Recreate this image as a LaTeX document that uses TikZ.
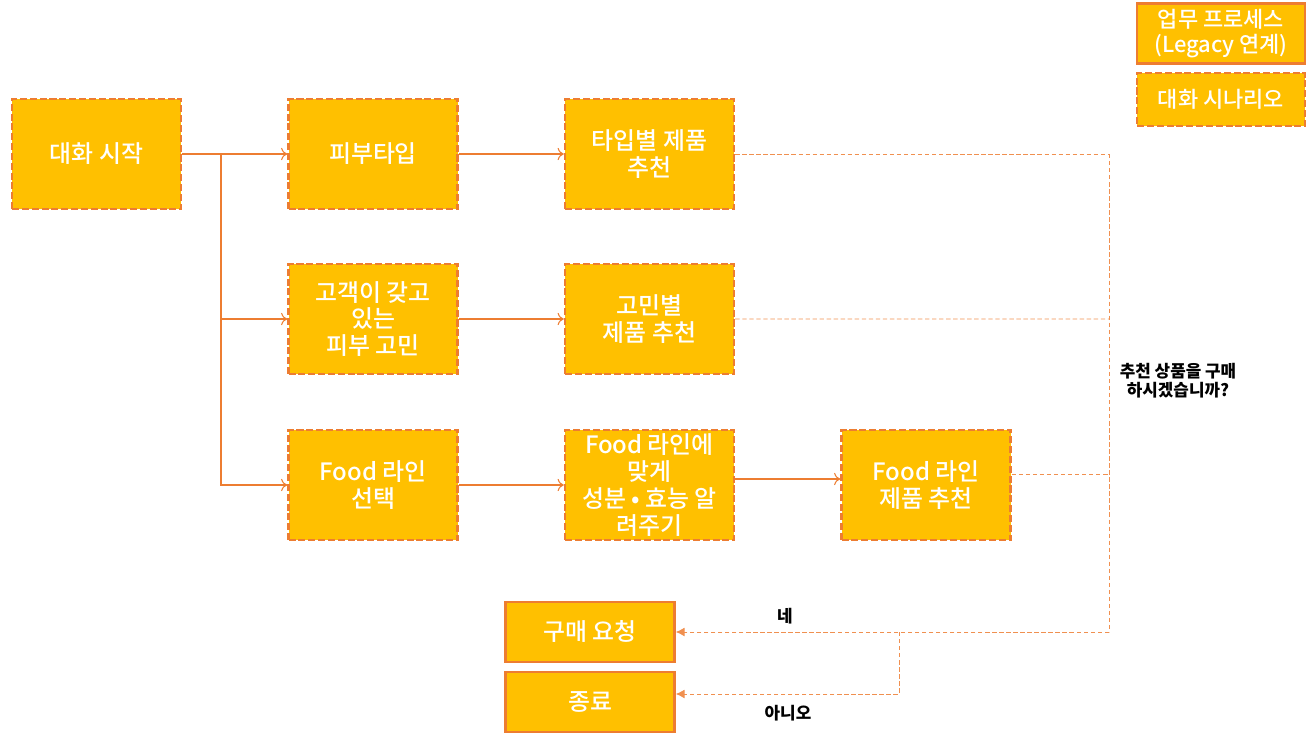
\documentclass[tikz,border=0pt]{standalone}
\usepackage{fontspec}
\setmainfont{Noto Sans CJK KR}
\newfontfamily\krmed{Noto Sans CJK KR Medium}
\usepackage{tikz}
\usetikzlibrary{shapes,arrows,arrows.meta,positioning,calc}
\definecolor{boxfill}{HTML}{FFC000}
\definecolor{boxline}{HTML}{ED7D31}

\begin{document}
\begin{tikzpicture}[node distance=5.53cm, auto]
\tikzstyle{block} = [rectangle, draw=boxline, line width=1.4pt, dash pattern=on 4pt off 1.6pt, fill=boxfill, text=white, minimum width=3.38cm, minimum height=2.2cm, inner xsep=1pt, inner ysep=0pt, align=center, font=\krmed\fontsize{13.6}{15.2}\selectfont]
\tikzstyle{process} = [rectangle, draw=boxline, line width=1.4pt, fill=boxfill, text=white, minimum width=3.38cm, minimum height=1.2cm, align=center, font=\krmed\fontsize{13.6}{14.2}\selectfont]
\tikzstyle{line} = [draw=boxline, line width=0.6pt, -{To[length=3.5pt,width=7pt]}]
\tikzstyle{dline} = [draw=boxline!85, line width=0.5pt, dash pattern=on 2.5pt off 1.5pt]
\tikzstyle{answer} = [align=center, font=\bfseries\fontsize{9.6}{10.8}\selectfont]

\useasboundingbox (0,0) rectangle (26.26,-14.78);

\node [block] at (1.93,-3.08) (start) {대화 시작};
\node [block, right of=start] (skin) {피부타입};
\node [block, right of=skin] (typerec) {타입별 제품\\추천};
\node [block, below of=skin, node distance=3.3cm] (concern) {고객이 갖고\\있는\\피부 고민};
\node [block, right of=concern] (concernrec) {고민별\\제품 추천};
\node [block, below of=concern, node distance=3.32cm] (food) {Food 라인\\선택};
\node [block, right of=food] (foodinfo) {Food 라인에\\맞게\\성분 • 효능 알\\려주기};
\node [block, right of=foodinfo] (foodrec) {Food 라인\\제품 추천};

\node [process] at (11.8,-12.64) (buy) {구매 요청};
\node [process, below of=buy, node distance=1.4cm] (stop) {종료};

\node [process, minimum width=3.36cm, minimum height=1.06cm, font=\krmed\fontsize{12.5}{14}\selectfont] at (24.42,-0.67) (legacy) {업무 프로세스\\(Legacy 연계)};
\node [block, minimum width=3.36cm, minimum height=1.06cm, font=\krmed\fontsize{12.5}{14}\selectfont] at (24.42,-1.99) (scenario) {대화 시나리오};

\node [answer] at (23.56,-7.62) (question) {추천 상품을 구매\\하시겠습니까?};
\node [answer] at (15.7,-12.32) (yes) {네};
\node [answer] at (15.76,-14.26) (no) {아니오};

\coordinate (b) at (4.42,-3.08);
\coordinate (j1) at (22.18,-3.08);
\coordinate (j2) at (22.18,-6.38);
\coordinate (j3) at (22.18,-9.48);
\coordinate (j4) at (22.18,-12.64);
\coordinate (k1) at (17.98,-12.64);
\coordinate (k2) at (17.98,-13.88);

\path [line] (start) -- (skin);
\path [line] (b) |- (concern);
\path [line] (b) |- (food);
\path [line] (skin) -- (typerec);
\path [line] (concern) -- (concernrec);
\path [line] (food) -- (foodinfo);
\path [line] ([yshift=0.12cm]foodinfo.east) -- ([yshift=0.12cm]foodrec.west);

\path [dline] (typerec.east) -- (j1);
\path [dline] (concernrec.east) -- (j2);
\path [dline] (foodrec.east |- j3) -- (j3);
\path [dline] (j1) -- (j4);
\path [dline, -{Latex[length=5pt,width=5pt]}] (j4) -- (buy.east);
\path [dline, -{Latex[length=5pt,width=5pt]}] (k1) -- (k2) -- (k2 -| stop.east);
\end{tikzpicture}
\end{document}
